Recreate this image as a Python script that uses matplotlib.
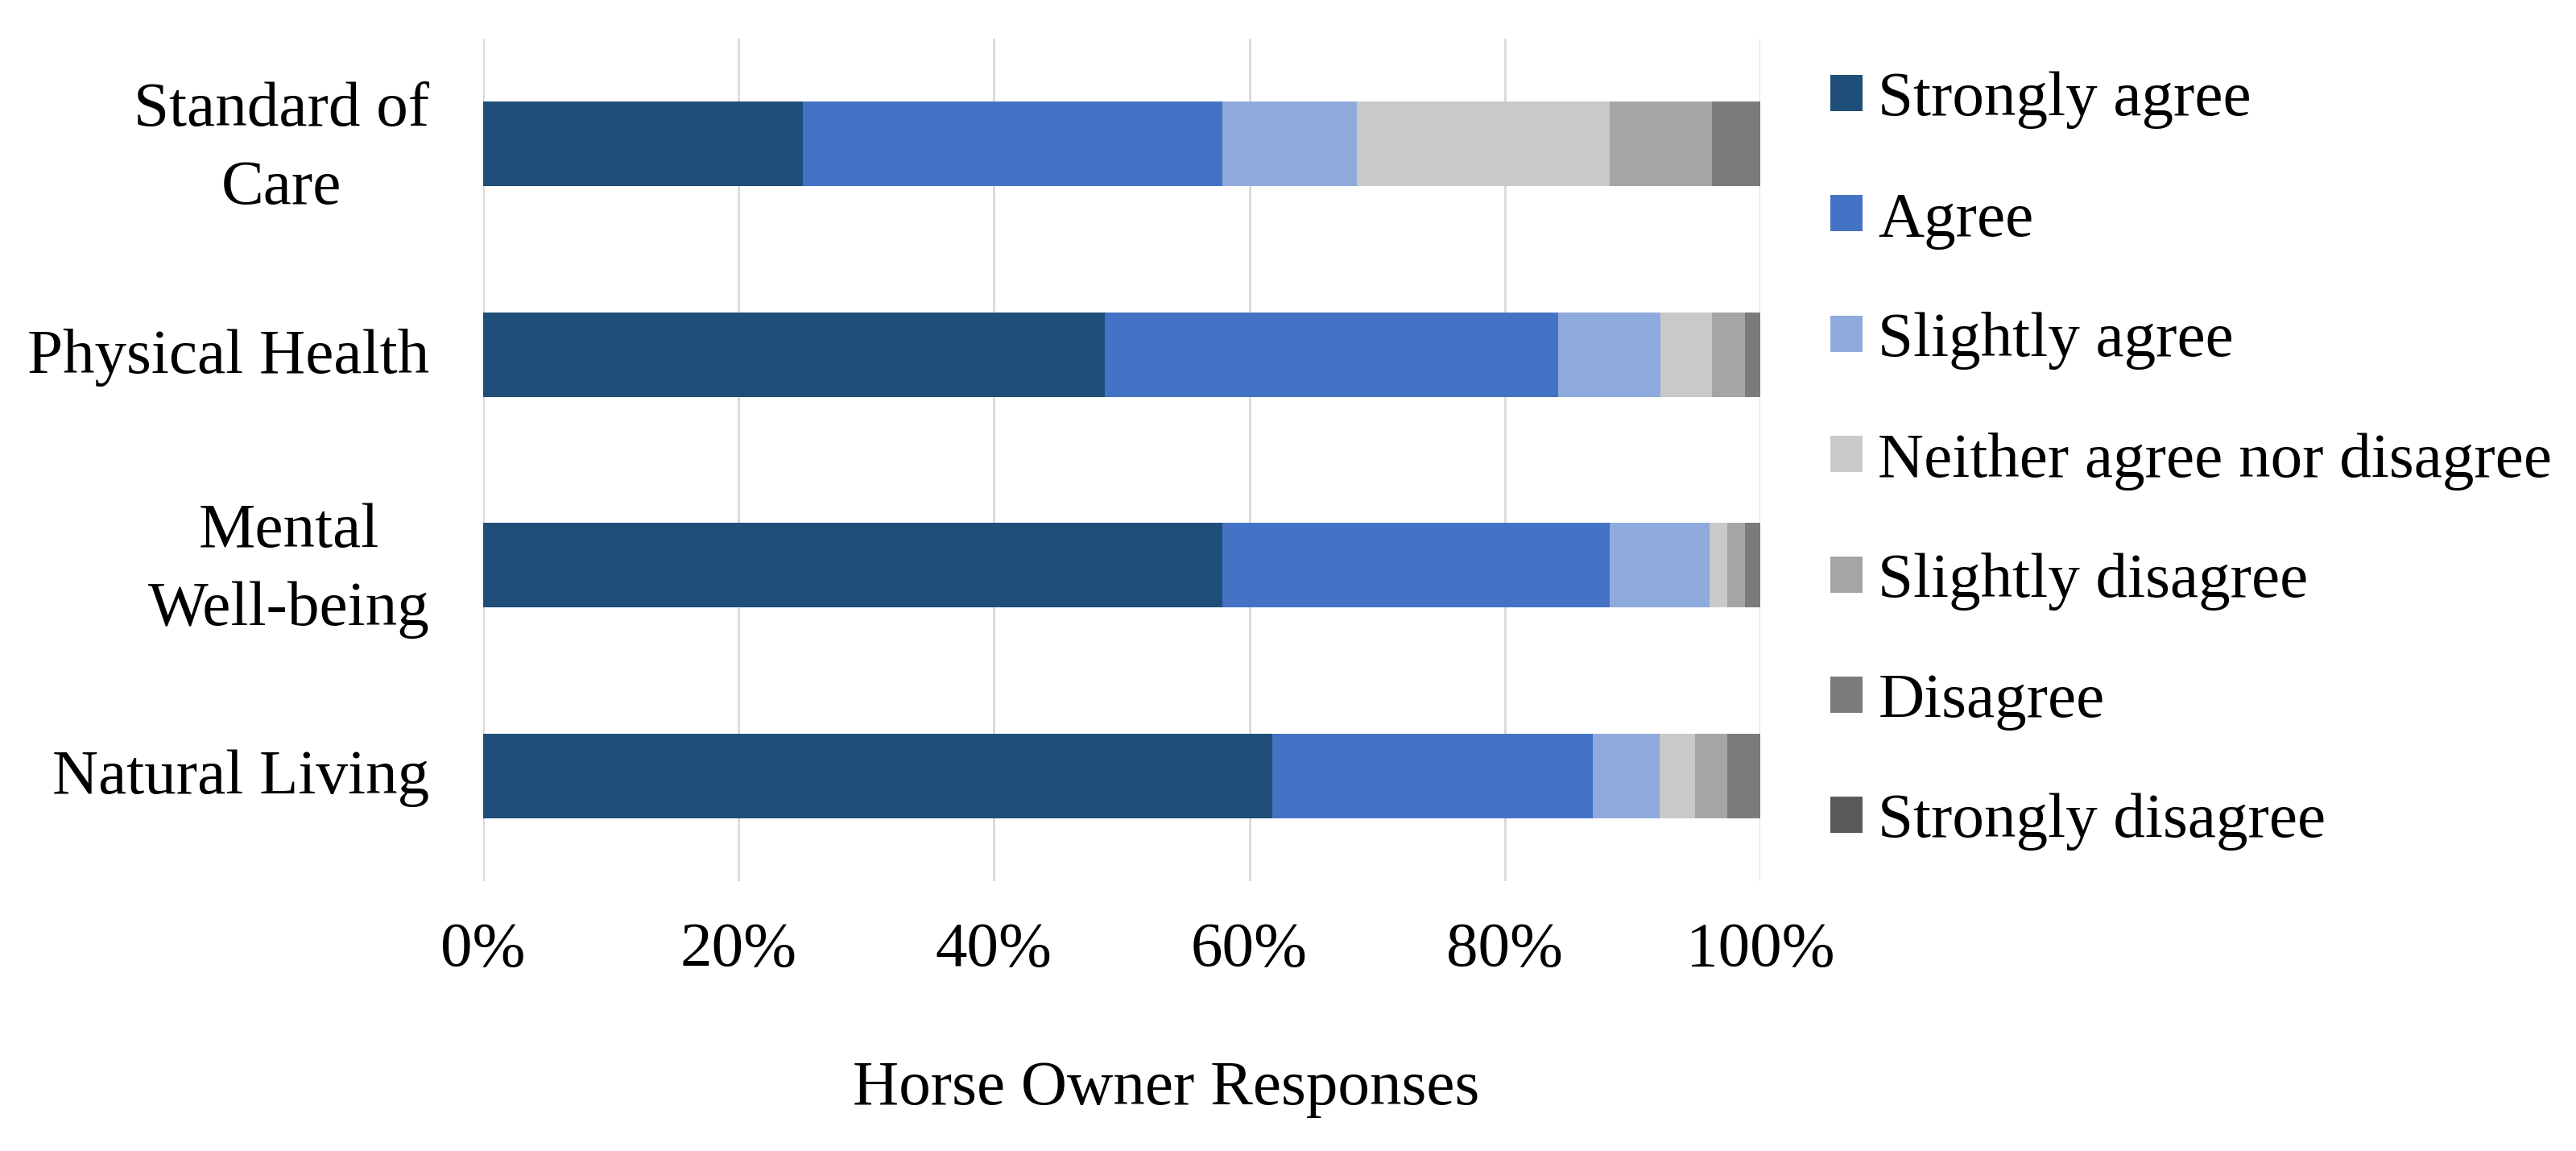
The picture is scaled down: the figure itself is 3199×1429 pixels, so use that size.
import numpy as np
import matplotlib
matplotlib.use("Agg")
import matplotlib.pyplot as plt
from matplotlib.transforms import ScaledTranslation

plt.rcParams['font.family'] = ['Liberation Serif', 'DejaVu Serif']

categories = ["Standard of\nCare", "Physical Health", "Mental\nWell-being", "Natural Living"]
responses = ["Strongly agree", "Agree", "Slightly agree", "Neither agree nor disagree",
             "Slightly disagree", "Disagree", "Strongly disagree"]

# percent of owners per response, one list per category
standard_of_care = [25.0, 32.9, 10.5, 19.8, 8.0, 3.8, 0.0]
physical_health = [48.7, 35.5, 8.0, 4.0, 2.6, 1.2, 0.0]
mental_wellbeing = [57.9, 30.3, 7.8, 1.4, 1.4, 1.2, 0.0]
natural_living = [61.8, 25.1, 5.2, 2.8, 2.5, 2.6, 0.0]

colors = ["#1F4E79", "#4472C4", "#8FAADC", "#C9C9C9", "#A5A5A5", "#7B7B7B", "#5A5A5A"]

data = np.array([standard_of_care, physical_health, mental_wellbeing, natural_living]) / 100.0

FS = 57

fig = plt.figure(figsize=(31.99, 14.29), dpi=100)
ax = fig.add_axes([600 / 3199, 1 - 1094 / 1429, 1586 / 3199, 1046 / 1429])

y = np.arange(len(categories))
left = np.zeros(len(categories))
for j, resp in enumerate(responses):
    ax.barh(y, data[:, j], left=left, height=0.4, color=colors[j], label=resp, zorder=3)
    left += data[:, j]

ax.set_xlim(0, 1)
ax.set_ylim(len(categories) - 0.5, -0.5)
ax.set_xticks(np.linspace(0, 1, 6))
ax.set_xticklabels(["0%", "20%", "40%", "60%", "80%", "100%"], fontsize=FS)
ax.set_yticks(y)
ax.set_yticklabels(categories, fontsize=FS, multialignment='center', linespacing=1.46)
ax.tick_params(axis='x', length=0, pad=36)
ax.tick_params(axis='y', length=0, pad=48)
ax.grid(axis='x', color='#D9D9D9', linewidth=2.0, zorder=0)
for s in ax.spines.values():
    s.set_visible(False)

# nudge category labels up a little, two-line ones a bit more
for lbl in ax.get_yticklabels():
    dy = 14 if "\n" in lbl.get_text() else 5
    lbl.set_transform(lbl.get_transform() + ScaledTranslation(0, dy / 100, fig.dpi_scale_trans))

ax.set_xlabel("Horse Owner Responses", fontsize=FS)
ax.xaxis.set_label_coords((1448 - 600) / 1586, (1094 - 1316) / 1046)

fig.legend(loc='upper left', bbox_to_anchor=(2273 / 3199, 1 - 89 / 1429),
           frameon=False, fontsize=FS, borderpad=0, borderaxespad=0,
           handlelength=0.5, handleheight=0.5, handletextpad=0.25,
           labelspacing=0.98)

fig.savefig("out.png", dpi=100)
